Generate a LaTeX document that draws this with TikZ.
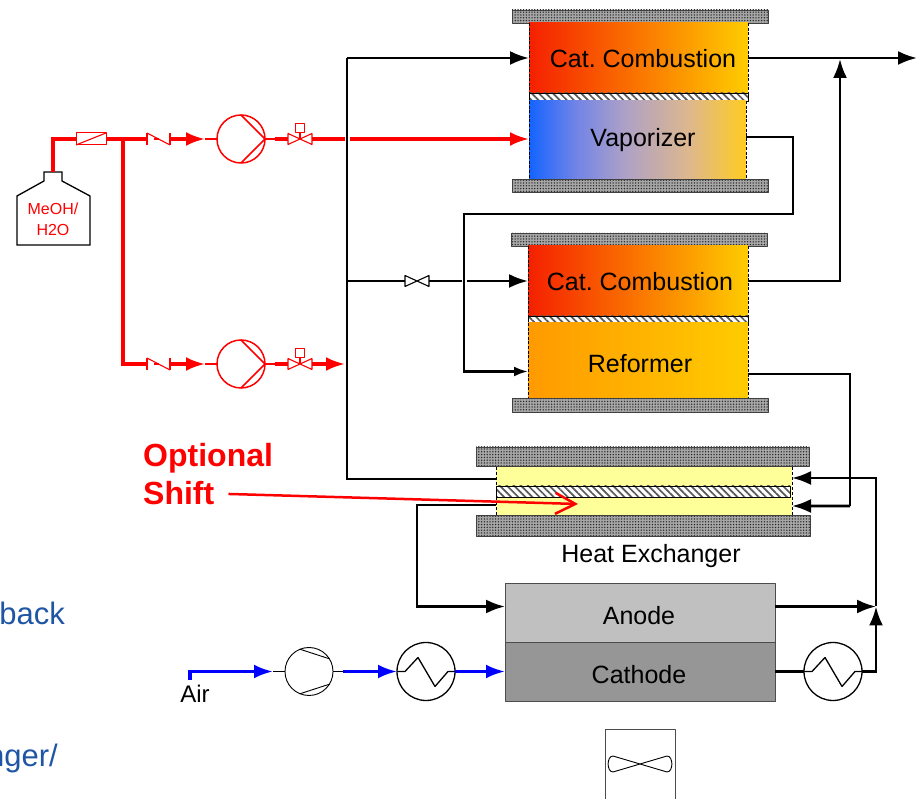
\documentclass[tikz,border=0pt]{standalone}
\usepackage{fontspec}
\setmainfont{Liberation Sans}
\usetikzlibrary{arrows.meta}
\usetikzlibrary{patterns.meta}

\definecolor{hotred}{HTML}{F52000}
\definecolor{hotmid}{HTML}{FF9000}
\definecolor{hotend}{HTML}{FFCC00}
\definecolor{refstart}{HTML}{FF9A00}
\definecolor{hxyellow}{HTML}{FFFF99}
\definecolor{anodegray}{HTML}{C0C0C0}
\definecolor{cathodegray}{HTML}{969696}
\definecolor{notetext}{HTML}{1F55A5}

\pgfdeclarehorizontalshading{vapshade}{100bp}{
  rgb(0bp)=(0.08,0.39,1);
  rgb(25bp)=(0.08,0.39,1);
  rgb(36bp)=(0.45,0.52,0.90);
  rgb(47bp)=(0.68,0.63,0.78);
  rgb(62bp)=(0.87,0.72,0.55);
  rgb(75bp)=(1,0.80,0.13);
  rgb(100bp)=(1,0.80,0.13)}

\tikzset{
  box/.style={rectangle,inner sep=0pt,outer sep=0pt},
  plate/.style={box,draw=black!75,line width=0.8bp,
    preaction={fill=black!35},
    pattern={Dots[distance=2.8bp,radius=0.75bp]},pattern color=black!85},
  hatch/.style={box,draw=black,line width=0.9bp,
    preaction={fill=white},
    pattern={Lines[angle=-45,distance=5bp,line width=1.7bp]},pattern color=black!65},
  rim/.style={black,line width=1bp,dash pattern=on 3bp off 1.6bp},
  pipe/.style={black,line width=2.6bp},
  redpipe/.style={red,line width=3.2bp},
  bluepipe/.style={blue,line width=3.2bp},
  redthin/.style={red,line width=1.1bp},
  thin line/.style={black,line width=1.1bp},
  machine/.style={circle,inner sep=0pt,outer sep=0pt,fill=white,draw},
  txt/.style={anchor=base,inner sep=0pt,font=\fontsize{25bp}{30bp}\selectfont},
}

\begin{document}
\begin{tikzpicture}[>={Latex[length=19bp,width=14bp]},line join=bevel]
\useasboundingbox (0bp,0bp) rectangle (917bp,799bp);
\clip (0bp,0bp) rectangle (917bp,799bp);
%% reactors
\node (node_plate1) at (640bp,782.5bp) [plate,minimum width=256bp,minimum height=13bp] {};
\node (node_comb1) at (638.5bp,741bp) [box,minimum width=219bp,minimum height=70bp,left color=hotred,middle color=hotmid,right color=hotend] {};
\node (node_wall1) at (638.5bp,702bp) [hatch,minimum width=219bp,minimum height=8bp] {};
\node (node_vap) at (637.5bp,659bp) [box,minimum width=217bp,minimum height=78bp,shading=vapshade] {};
\node (node_plate2) at (640bp,613.5bp) [plate,minimum width=256bp,minimum height=13bp] {};
\node (node_plate3) at (639bp,559.5bp) [plate,minimum width=256bp,minimum height=13bp] {};
\node (node_comb2) at (638bp,518bp) [box,minimum width=220bp,minimum height=70bp,left color=hotred,middle color=hotmid,right color=hotend] {};
\node (node_wall2) at (638bp,479.5bp) [hatch,minimum width=220bp,minimum height=7bp] {};
\node (node_ref) at (638bp,438.5bp) [box,minimum width=220bp,minimum height=75bp,left color=refstart,right color=hotend] {};
\node (node_plate4) at (640bp,394bp) [plate,minimum width=256bp,minimum height=14bp] {};
\foreach \n in {node_comb1,node_vap,node_comb2,node_ref} {
  \draw [rim] (\n.north west) -- (\n.south west);
  \draw [rim] (\n.north east) -- (\n.south east);
}
%% heat exchanger and stack
\node (node_plate5) at (642.5bp,342.5bp) [plate,minimum width=333bp,minimum height=19bp] {};
\node (node_hx) at (644bp,308bp) [box,minimum width=296bp,minimum height=48bp,fill=hxyellow] {};
\node (node_wall3) at (643bp,307.5bp) [hatch,minimum width=294bp,minimum height=11bp] {};
\node (node_plate6) at (643bp,273.5bp) [plate,minimum width=334bp,minimum height=21bp] {};
\draw [black,line width=0.5bp,densely dashed] (node_hx.north west) -- (node_hx.south west);
\draw [black,line width=0.5bp,densely dashed] (node_hx.north east) -- (node_hx.south east);
\node (node_anode) at (640bp,186.5bp) [box,draw=black!70,line width=0.9bp,minimum width=270bp,minimum height=59bp,fill=anodegray] {};
\node (node_cathode) at (640bp,127.5bp) [box,draw=black!70,line width=0.9bp,minimum width=270bp,minimum height=59bp,fill=cathodegray] {};
\node (node_fan) at (640bp,29.5bp) [box,draw=black!70,line width=0.9bp,minimum width=70bp,minimum height=81bp,fill=white] {};
\draw [thin line,line width=0.9bp] (613bp,43bp) -- (667bp,27bp) .. controls (673.5bp,27bp) and (673.5bp,43bp) .. (667bp,43bp) -- (613bp,27bp) .. controls (606.5bp,27bp) and (606.5bp,43bp) .. (613bp,43bp) -- cycle;
%% texts in the boxes
\node (node_t1) at (643bp,731bp) [txt] {Cat.\ Combustion};
\node (node_t2) at (643bp,652bp) [txt] {Vaporizer};
\node (node_t3) at (640bp,508bp) [txt] {Cat.\ Combustion};
\node (node_t4) at (640bp,426bp) [txt] {Reformer};
\node (node_t5) at (651bp,236bp) [txt] {Heat Exchanger};
\node (node_t6) at (639bp,174bp) [txt] {Anode};
\node (node_t7) at (639bp,115bp) [txt] {Cathode};
\node (node_air) at (195bp,96bp) [txt,font=\fontsize{24bp}{28bp}\selectfont] {Air};
\node (node_opt) at (143bp,332bp) [txt,anchor=base west,text=red,font=\bfseries\fontsize{32bp}{36bp}\selectfont] {Optional};
\node (node_shift) at (143bp,294bp) [txt,anchor=base west,text=red,font=\bfseries\fontsize{32bp}{36bp}\selectfont] {Shift};
\node (node_note1) at (65bp,174bp) [txt,anchor=base east,text=notetext,font=\fontsize{31bp}{34bp}\selectfont] {back};
\node (node_note2) at (58bp,33bp) [txt,anchor=base east,text=notetext,font=\fontsize{31bp}{34bp}\selectfont] {nger/};
%% tank
\draw [black,line width=1.3bp,line join=miter] (44bp,627bp) -- (62bp,627bp) -- (62bp,618bp) -- (90bp,603bp) -- (90bp,554bp) -- (17bp,554bp) -- (17bp,603bp) -- (44bp,618bp) -- cycle;
\coordinate (c_tank) at (53bp,627bp);
\node (node_tank1) at (53bp,584bp) [txt,text=red,font=\fontsize{16bp}{18bp}\selectfont] {MeOH/};
\node (node_tank2) at (53bp,563bp) [txt,text=red,font=\fontsize{16bp}{18bp}\selectfont] {H2O};
%% red line parts
\node (node_filt) at (91bp,660bp) [box,draw=red,line width=1bp,minimum width=30bp,minimum height=12bp,fill=white] {};
\draw [redthin] (node_filt.south west) -- (node_filt.north east);
\node (node_chk1) at (158.5bp,660bp) [box,minimum width=23bp,minimum height=12bp] {};
\draw [redthin] (node_chk1.north west) -- (node_chk1.south west);
\draw [redthin] (node_chk1.north east) -- (node_chk1.south east);
\draw [redthin] (node_chk1.north west) -- (node_chk1.south east);
\draw [redthin] (node_chk1.center) -- ++(-5bp,0bp);
\node (node_chk2) at (158.5bp,435bp) [box,minimum width=23bp,minimum height=12bp] {};
\draw [redthin] (node_chk2.north west) -- (node_chk2.south west);
\draw [redthin] (node_chk2.north east) -- (node_chk2.south east);
\draw [redthin] (node_chk2.north west) -- (node_chk2.south east);
\draw [redthin] (node_chk2.center) -- ++(-5bp,0bp);
\node (node_pump1) at (241bp,660bp) [machine,draw=red,line width=1.5bp,minimum size=48bp] {};
\draw [red,line width=1.5bp] (node_pump1.north) -- (node_pump1.east) -- (node_pump1.south);
\node (node_pump2) at (241bp,435bp) [machine,draw=red,line width=1.5bp,minimum size=48bp] {};
\draw [red,line width=1.5bp] (node_pump2.north) -- (node_pump2.east) -- (node_pump2.south);
\node (node_vlv1) at (300bp,660bp) [box,minimum width=24bp,minimum height=11bp] {};
\draw [redthin] (node_vlv1.north west) -- (node_vlv1.south east) -- (node_vlv1.north east) -- (node_vlv1.south west) -- cycle;
\node (node_act1) at (300bp,671bp) [box,draw=red,line width=1bp,minimum size=9.5bp] {};
\draw [redthin] (node_vlv1.center) -- (node_act1.south);
\node (node_vlv2) at (300bp,435bp) [box,minimum width=24bp,minimum height=11bp] {};
\draw [redthin] (node_vlv2.north west) -- (node_vlv2.south east) -- (node_vlv2.north east) -- (node_vlv2.south west) -- cycle;
\node (node_act2) at (300bp,446bp) [box,draw=red,line width=1bp,minimum size=9.5bp] {};
\draw [redthin] (node_vlv2.center) -- (node_act2.south);
%% red lines
\coordinate (c_bend) at (53bp,660bp);
\coordinate (c_split) at (123bp,660bp);
\coordinate (c_a1) at (205bp,660bp);
\coordinate (c_b1) at (275bp,660bp);
\coordinate (c_a2) at (205bp,435bp);
\coordinate (c_b2) at (275bp,435bp);
\coordinate (c_g1) at (344.5bp,660bp);
\coordinate (c_g2) at (349.5bp,660bp);
\coordinate (c_g3) at (345bp,435bp);
\draw [redpipe,line join=miter] (c_tank) -- (c_bend) -- (node_filt.west);
\draw [redpipe] (node_filt.east) -- (node_chk1.west);
\draw [redpipe,line join=miter] (c_split) -- (c_split |- node_chk2) -- (node_chk2.west);
\draw [redpipe,->] (node_chk1.east) -- (c_a1);
\draw [redpipe,->] (node_chk2.east) -- (c_a2);
\draw [redthin] (c_a1) -- (node_pump1.west);
\draw [redthin] (c_a2) -- (node_pump2.west);
\draw [redthin] (node_pump1.east) -- (c_b1);
\draw [redthin] (node_pump2.east) -- (c_b2);
\draw [redpipe] (c_b1) -- (node_vlv1.west);
\draw [redpipe] (c_b2) -- (node_vlv2.west);
\draw [redpipe] (node_vlv1.east) -- (c_g1);
\draw [redpipe,->] (c_g2) -- (node_vap.west |- c_g2);
\draw [redpipe,->] (node_vlv2.east) -- (c_g3);
%% black lines
\coordinate (c_main) at (347bp,741bp);
\coordinate (c_main2) at (347bp,320bp);
\coordinate (c_v1) at (793bp,585bp);
\coordinate (c_v2) at (464bp,585bp);
\coordinate (c_j) at (347bp,518bp);
\coordinate (c_g4) at (461.5bp,518bp);
\coordinate (c_g5) at (466.5bp,518bp);
\coordinate (c_out) at (840bp,740bp);
\coordinate (c_end) at (917bp,741bp);
\coordinate (c_r) at (850bp,293bp);
\coordinate (c_f) at (417bp,192.5bp);
\coordinate (c_m) at (876bp,192.5bp);
\coordinate (c_n) at (876bp,127.5bp);
\coordinate (c_h) at (876bp,321bp);
\node (node_vlv3) at (417bp,518bp) [box,minimum width=24bp,minimum height=11bp] {};
\draw [pipe,line join=miter] ([yshift=12bp]node_hx.west) -- (c_main2) -- (c_main);
\draw [pipe,->] (c_main) -- (node_comb1.west);
\draw [pipe] (c_j) -- (node_vlv3.west);
\draw [thin line,fill=white] (node_vlv3.north west) -- (node_vlv3.south east) -- (node_vlv3.north east) -- (node_vlv3.south west) -- cycle;
\draw [pipe] (node_vlv3.east) -- (c_g4);
\draw [pipe,->] (c_g5) -- (node_comb2.west);
\draw [pipe,-{Latex[length=14bp,width=10bp]},line join=miter] ([yshift=3bp]node_vap.east) -| (c_v1) -- (c_v2) |- ([yshift=-11bp]node_ref.west);
\draw [pipe,->] (node_comb1.east) -- (c_end);
\draw [pipe,->,line join=miter] (node_comb2.east) -| (c_out);
\draw [pipe,line join=miter] ([yshift=-13.5bp]node_ref.east) -| (c_r);
\draw [pipe,->] (c_r) -- ([yshift=-15bp]node_hx.east);
\draw [pipe,->,line join=miter] ([yshift=-14bp]node_hx.west) -| (c_f) -- ([yshift=6bp]node_anode.west);
\draw [pipe,->] ([yshift=6bp]node_anode.east) -- (c_m);
\draw [pipe,->,line join=miter] (c_m) -- (c_h) -- ([yshift=13bp]node_hx.east);
%% air line and coolers
\coordinate (c_air) at (190bp,119bp);
\coordinate (c_air2) at (190bp,127.5bp);
\coordinate (c_a3) at (273bp,127.5bp);
\coordinate (c_b3) at (343bp,127.5bp);
\node (node_comp) at (309bp,127.5bp) [machine,line width=0.9bp,minimum size=48bp] {};
\draw [thin line,line width=0.9bp] (node_comp.112) -- (node_comp.32);
\draw [thin line,line width=0.9bp] (node_comp.-112) -- (node_comp.-32);
\node (node_hx1) at (426bp,127.5bp) [machine,line width=1.3bp,minimum size=58bp] {};
\draw [thin line,line width=1.3bp] (node_hx1.west) -- ++(8bp,0bp) -- ++(13bp,14bp) -- ++(17bp,-29bp) -- ++(13bp,15bp) -- (node_hx1.east);
\node (node_hx2) at (833bp,127.5bp) [machine,line width=1.3bp,minimum size=58bp] {};
\draw [thin line,line width=1.3bp] (node_hx2.west) -- ++(8bp,0bp) -- ++(13bp,14bp) -- ++(17bp,-29bp) -- ++(13bp,15bp) -- (node_hx2.east);
\draw [bluepipe,->,line join=miter] (c_air) -- (c_air2) -- (c_a3);
\draw [thin line] (c_a3) -- (node_comp.west);
\draw [thin line] (node_comp.east) -- (c_b3);
\draw [bluepipe,->] (c_b3) -- (node_hx1.west);
\draw [bluepipe,->] (node_hx1.east) -- (node_cathode.west);
\draw [pipe] (node_cathode.east) -- (node_hx2.west);
\draw [pipe,->,line join=miter] (node_hx2.east) -- (c_n) -- (c_m);
%% optional shift pointer
\coordinate (c_tip) at (578bp,295bp);
\draw [red,line width=2.5bp,shorten <=14bp,-{Straight Barb[length=20bp,width=21bp]}] (node_shift.east) -- (c_tip);
%
\end{tikzpicture}
\end{document}
